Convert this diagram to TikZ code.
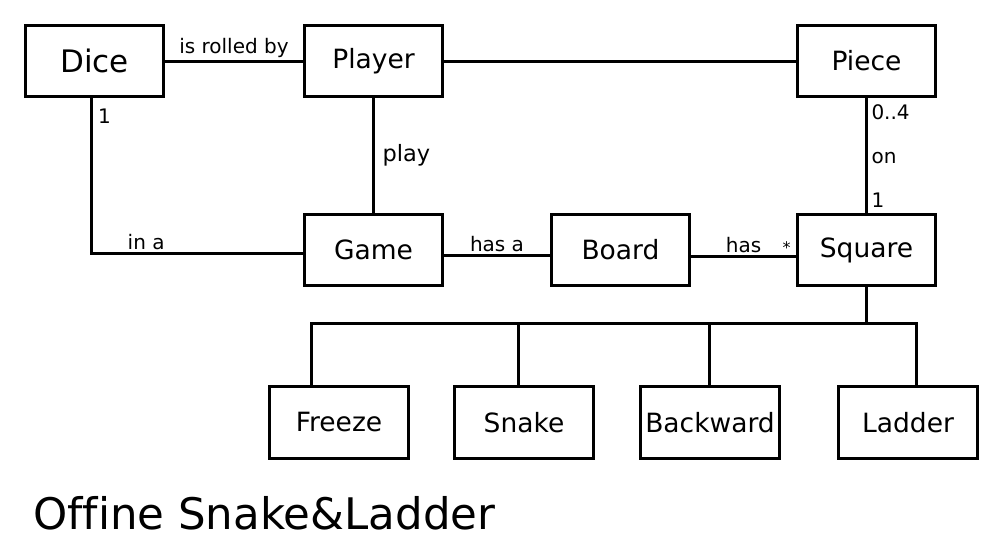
\documentclass[tikz,border=0pt]{standalone}
\usepackage{fontspec}
\setmainfont{DejaVu Sans}[Ligatures=NoCommon]
\usetikzlibrary{positioning}

\begin{document}
\begin{tikzpicture}[x=1pt, y=-1pt,
  cls/.style={draw, line width=3pt, minimum width=138pt, minimum height=71pt, inner sep=2pt, font=\fontsize{26.5}{31}\selectfont},
  assoc/.style={line width=3pt},
  lbl/.style={font=\fontsize{20}{23}\selectfont, inner sep=1.5pt}]
\useasboundingbox (0,0) rectangle (1000,547);
% classes
\node[cls, font=\fontsize{31}{35}\selectfont] (dice) at (94.5,61) {Dice};
\node[cls, right=138pt of dice] (player) {Player};
\node[cls, right=352pt of player] (piece) {Piece};
\node[cls, below=115pt of player] (game) {Game};
\node[cls, right=106pt of game] (board) {Board};
\node[cls, right=105pt of board] (square) {Square};
% kinds of square
\node[cls, minimum width=139pt, minimum height=72pt] (freeze) at (339,422.5) {Freeze};
\node[cls, minimum width=139pt, minimum height=72pt, right=43pt of freeze] (snake) {Snake};
\node[cls, minimum width=139pt, minimum height=72pt, right=44pt of snake] (backward) {Backward};
\node[cls, minimum width=139pt, minimum height=72pt, right=56pt of backward] (ladder) {Ladder};
% associations
\draw[assoc] (dice) -- node[lbl, above] {is rolled by} (player);
\draw[assoc] (player) -- (piece);
\draw[assoc] (player) -- node[lbl, right=6pt, font=\fontsize{22.5}{26}\selectfont] {play} (game);
\draw[assoc] ([xshift=-3.5pt]dice.south) |- node[lbl, pos=0.06, right=4pt] {1} node[lbl, pos=0.63, above] {in a} ([yshift=-3pt]game.west);
\draw[assoc] ([yshift=-5pt]game.east) -- node[lbl, above] {has a} ([yshift=-5pt]board.west);
\draw[assoc] ([yshift=-6pt]board.east) -- node[lbl, above] {has} node[lbl, pos=0.91, above, font=\fontsize{16}{18}\selectfont] {*} ([yshift=-6pt]square.west);
\draw[assoc] (piece) -- node[lbl, pos=0.12, right=2pt] {0..4} node[lbl, pos=0.52, right=2pt] {on} node[lbl, pos=0.89, right=2pt] {1} (square);
% generalisation
\draw[assoc] (square.south) -- ++(0,36) coordinate (bus);
\draw[assoc] ([xshift=-28pt]freeze.north) |- (bus) -| ([xshift=8pt]ladder.north);
\draw[assoc] ([xshift=-6pt]snake.north) -- ([xshift=-6pt]snake.north |- bus);
\draw[assoc] ([xshift=-1pt]backward.north) -- ([xshift=-1pt]backward.north |- bus);
% title
\node[anchor=base west, inner sep=0pt, font=\fontsize{43.5}{50}\selectfont] (title) at (33,529) {Offine Snake\&Ladder};
\end{tikzpicture}
\end{document}
